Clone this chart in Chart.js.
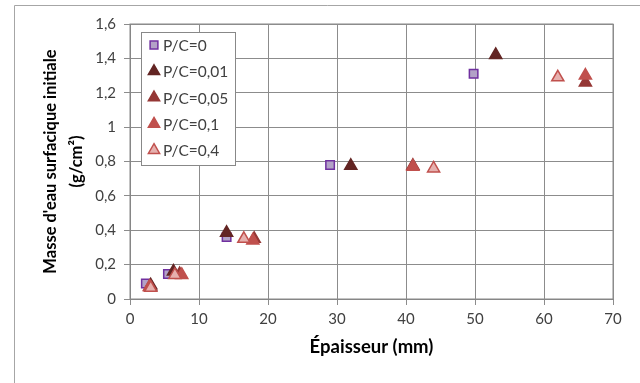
<!DOCTYPE html>
<html>
<head>
<meta charset="utf-8">
<script src="https://cdn.jsdelivr.net/npm/chart.js@4"></script>
<style>
  html, body { margin: 0; padding: 0; background: #fff; }
  #wrap { width: 640px; height: 383px; position: relative; }
</style>
</head>
<body>
<div id="wrap"><canvas id="chartMasse"></canvas></div>
<script>
 // séries (épaisseur en mm, masse en g/cm²)
 const labels = ["P/C=0", "P/C=0,01", "P/C=0,05", "P/C=0,1", "P/C=0,4"];

 const x_pc0 = [2.3, 5.5, 14, 29, 49.8];
 const y_pc0 = [0.09, 0.145, 0.36, 0.78, 1.31];

 const x_pc001 = [3, 6.3, 14, 32, 53];
 const y_pc001 = [0.08, 0.16, 0.385, 0.775, 1.42];

 const x_pc005 = [3, 7.2, 18, 41, 66];
 const y_pc005 = [0.07, 0.145, 0.35, 0.775, 1.26];

 const x_pc01 = [2.8, 7.5, 17.8, 41, 66];
 const y_pc01 = [0.07, 0.14, 0.34, 0.77, 1.30];

 const x_pc04 = [3, 6.5, 16.5, 44, 62];
 const y_pc04 = [0.065, 0.14, 0.35, 0.76, 1.29];

 const xTicks = [0, 10, 20, 30, 40, 50, 60, 70];
 const yTicks = [0, 0.2, 0.4, 0.6, 0.8, 1, 1.2, 1.4, 1.6];

 const toPoints = (xs, ys) => xs.map((x, i) => ({ x: x, y: ys[i] }));

 const styles = [
   { pointStyle: "rect", radius: 6, bg: "#b3a2c7", border: "#7030a0" },
   { pointStyle: "triangle", radius: 7, bg: "#632523", border: "#632523" },
   { pointStyle: "triangle", radius: 7, bg: "#953735", border: "#953735" },
   { pointStyle: "triangle", radius: 7, bg: "#c0504d", border: "#c0504d" },
   { pointStyle: "triangle", radius: 7, bg: "#e6b0ae", border: "#c0504d" }
 ];

 const series = [
   toPoints(x_pc0, y_pc0),
   toPoints(x_pc001, y_pc001),
   toPoints(x_pc005, y_pc005),
   toPoints(x_pc01, y_pc01),
   toPoints(x_pc04, y_pc04)
 ];

 const datasets = series.map((pts, i) => ({
   label: labels[i],
   data: pts,
   pointStyle: styles[i].pointStyle,
   pointRadius: styles[i].radius,
   pointHoverRadius: styles[i].radius,
   backgroundColor: styles[i].bg,
   borderColor: styles[i].border,
   borderWidth: 1.5,
   order: series.length - i /* dernière série au-dessus, comme Excel */
 }));

 const fontFamily = "Lato, 'Open Sans', sans-serif";

 // cadre extérieur + cadre de la zone de tracé
 const framePlugin = {
   id: "frame",
   beforeDraw(chart) {
     const ctx = chart.ctx;
     const a = chart.chartArea;
     ctx.save();
     ctx.fillStyle = "#fff";
     ctx.fillRect(0, 0, chart.width, chart.height);
     ctx.strokeStyle = "#a6a6a6";
     ctx.lineWidth = 1;
     ctx.beginPath();
     ctx.moveTo(14.5, chart.height);
     ctx.lineTo(14.5, 5.5);
     ctx.lineTo(chart.width, 5.5);
     ctx.stroke();
     ctx.strokeStyle = "#888";
     ctx.strokeRect(a.left, a.top, a.right - a.left, a.bottom - a.top);
     ctx.restore();
   }
 };

 // légende dans la zone de tracé
 const legendPlugin = {
   id: "insideLegend",
   afterDraw(chart) {
     const ctx = chart.ctx;
     ctx.save();
     ctx.fillStyle = "#fff";
     ctx.fillRect(141, 32, 94, 133);
     ctx.strokeStyle = "#888";
     ctx.lineWidth = 1;
     ctx.strokeRect(141.5, 32.5, 94, 133);
     ctx.font = "15.5px " + fontFamily;
     ctx.textBaseline = "middle";
     labels.forEach((lab, i) => {
       const y = 45 + i * 26.3;
       ctx.fillStyle = styles[i].bg;
       ctx.strokeStyle = styles[i].border;
       ctx.lineWidth = 1.5;
       Chart.helpers.drawPoint(ctx, {
         pointStyle: styles[i].pointStyle,
         radius: styles[i].pointStyle === "rect" ? 5.5 : 6.5,
         rotation: 0,
         borderWidth: 1.5
       }, 154, y);
       ctx.fillStyle = "#404040";
       ctx.fillText(lab, 163, y + 1);
     });
     ctx.restore();
   }
 };

 const config = {
   type: "scatter",
   data: { datasets: datasets },
   options: {
     responsive: true,
     maintainAspectRatio: false,
     animation: false,
     layout: { padding: { left: 14, top: 24, right: 27, bottom: 0 } },
     plugins: {
       legend: { display: false },
       tooltip: { enabled: false }
     },
     scales: {
       x: {
         type: "linear",
         min: 0,
         max: 70,
         afterBuildTicks(scale) { scale.ticks = xTicks.map(v => ({ value: v })); },
         afterFit(scale) { scale.height = 84; },
         grid: { color: "#8c8c8c", tickLength: 6, drawTicks: true },
         border: { color: "#868686" },
         ticks: { color: "#404040", padding: 5, font: { family: fontFamily, size: 15 } },
         title: {
           display: true,
           text: "Épaisseur (mm)",
           color: "#000",
           padding: { top: 4, bottom: 25 },
           font: { family: fontFamily, size: 18.5, weight: "bold" }
         }
       },
       y: {
         type: "linear",
         min: 0,
         max: 1.6,
         afterBuildTicks(scale) { scale.ticks = yTicks.map(v => ({ value: v })); },
         afterFit(scale) { scale.width = 116; },
         grid: { color: "#8c8c8c", tickLength: 6 },
         border: { color: "#868686" },
         ticks: {
           color: "#404040",
           padding: 8,
           font: { family: fontFamily, size: 15 },
           callback: v => String(Math.round(v * 10) / 10).replace(".", ",")
         },
         title: {
           display: true,
           text: ["Masse d'eau surfacique initiale", "(g/cm²)"],
           color: "#000",
           padding: { top: 23, bottom: 4 },
           font: { family: fontFamily, size: 16.5, weight: "bold", lineHeight: 1.6 }
         }
       }
     }
   },
   plugins: [framePlugin, legendPlugin]
 };

 const myChart = new Chart(document.getElementById("chartMasse"), config);
</script>
</body>
</html>
